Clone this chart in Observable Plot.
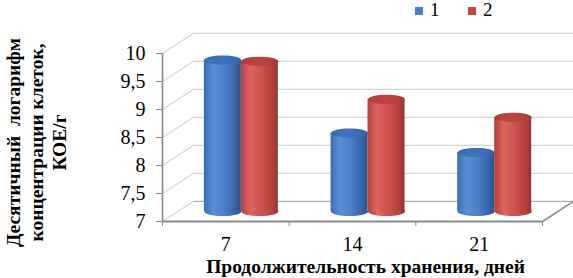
<!DOCTYPE html>
<html><head><meta charset="utf-8">
<script src="https://cdn.jsdelivr.net/npm/d3@7"></script>
<script src="https://cdn.jsdelivr.net/npm/@observablehq/plot@0.6"></script>
<style>
body{margin:0;background:#fff;}
#wrap{position:relative;width:573px;height:278px;overflow:hidden;}
#wrap svg text{font-family:"Liberation Serif",serif;}
.lg{position:absolute;font-family:"Liberation Serif",serif;font-size:19px;color:#000;line-height:1;}
.sw{position:absolute;width:8px;height:8px;}
</style></head><body><div id="wrap"></div>
<script>
const categories = ["7", "14", "21"];
const seriesNames = ["1", "2"];
const series1 = [9.7, 8.4, 8.05];
const series2 = [9.68, 9.0, 8.68];
const yTicks = [7, 7.5, 8, 8.5, 9, 9.5, 10];
const yTickLabels = ["7", "7,5", "8", "8,5", "9", "9,5", "10"];
const xTitle = "Продолжительность хранения, дней";
const yTitle = "Десятичный\u00a0 логарифм\nконцентрации клеток,\nКОЕ/г";

const DX = 0.245, DY = 0.36, BW = 0.292;
const FONT = "Liberation Serif";
const catIdx = categories.map((c, i) => i);
const boundaries = [-0.5, 0.5, 1.5, 2.5];
const rows = catIdx.flatMap(i => [
  {i, s: 0, v: series1[i]},
  {i, s: 1, v: series2[i]}
]).map(d => ({...d, cx: d.i + DX / 2 + (d.s === 0 ? -BW / 2 : BW / 2)}));

const ellipse = {
  draw(ctx) {
    const rx = 18.5, ry = 4.6, k = 0.5523;
    ctx.moveTo(-rx, 0);
    ctx.bezierCurveTo(-rx, -ry * k, -rx * k, -ry, 0, -ry);
    ctx.bezierCurveTo(rx * k, -ry, rx, -ry * k, rx, 0);
    ctx.bezierCurveTo(rx, ry * k, rx * k, ry, 0, ry);
    ctx.bezierCurveTo(-rx * k, ry, -rx, ry * k, -rx, 0);
    ctx.closePath();
  }
};

const bodyFill = ["url(#gBlue)", "url(#gRed)"];
const topFill = ["url(#tBlue)", "url(#tRed)"];
const barMarks = [0, 1].flatMap(s => {
  const data = rows.filter(d => d.s === s);
  return [
    Plot.dot(data, {x: "cx", y: 7 + DY / 2, symbol: ellipse, fill: bodyFill[s], stroke: "none"}),
    Plot.rect(data, {x1: d => d.cx - BW / 2, x2: d => d.cx + BW / 2, y1: 7 + DY / 2, y2: d => d.v + DY / 2, fill: bodyFill[s]}),
    Plot.dot(data, {x: "cx", y: d => d.v + DY / 2, symbol: ellipse, fill: topFill[s], stroke: "none"})
  ];
});

const svg = Plot.plot({
  width: 573, height: 278,
  marginLeft: 162, marginRight: 31, marginTop: 53, marginBottom: 57,
  style: {background: "#fff", fontFamily: FONT, overflow: "visible"},
  x: {domain: [-0.5, 2.5], axis: null},
  y: {domain: [7, 10], axis: null},
  marks: [
    Plot.link(yTicks, {x1: -0.5, y1: d => d, x2: -0.5 + DX, y2: d => d + DY, stroke: "#d4d4d4", strokeWidth: 1.2}),
    Plot.link(yTicks.filter(v => v > 7), {x1: -0.5 + DX, x2: 2.5 + DX, y1: d => d + DY, y2: d => d + DY, stroke: "#d4d4d4", strokeWidth: 1.2}),
    Plot.link([7], {x1: -0.5 + DX, x2: 2.5 + DX, y1: d => d + DY, y2: d => d + DY, stroke: "#b0b0b0", strokeWidth: 1.3}),
    Plot.link([7], {x1: 2.5, y1: d => d, x2: 2.5 + DX, y2: d => d + DY, stroke: "#8a8a8a", strokeWidth: 1.5}),
    Plot.ruleY([7], {x1: -0.5, x2: 2.5, stroke: "#888", strokeWidth: 2}),
    Plot.ruleX([-0.5], {y1: 7, y2: 10, stroke: "#888", strokeWidth: 1.6}),
    Plot.axisY({ticks: yTicks, tickFormat: v => yTickLabels[yTicks.indexOf(v)], tickSize: 6, tickPadding: 11, stroke: "#888", fontSize: 20, fontFamily: FONT, color: "#000", label: null}),
    Plot.axisX({ticks: boundaries, tickFormat: () => "", tickSize: 5, stroke: "#888", label: null}),
    Plot.axisX({ticks: catIdx, tickFormat: i => categories[i], tickSize: 0, tickPadding: 15, fontSize: 20, fontFamily: FONT, label: null}),
    ...barMarks,
    Plot.text([xTitle], {frameAnchor: "bottom", text: d => d, dx: 13, dy: 45, lineAnchor: "middle", fontSize: 19.5, fontFamily: FONT, fontWeight: "bold", fill: "#000"}),
    Plot.text([yTitle], {frameAnchor: "left", text: d => d, dx: -127, dy: 5, rotate: -90, lineAnchor: "middle", textAnchor: "middle", lineHeight: 1.18, fontSize: 19.5, fontFamily: FONT, fontWeight: "bold", fill: "#000"})
  ]
});

const defs = d3.select(svg).insert("defs", ":first-child");
function grad(id, stops) {
  const g = defs.append("linearGradient").attr("id", id).attr("x1", 0).attr("x2", 1).attr("y1", 0).attr("y2", 0);
  stops.forEach(([o, c]) => g.append("stop").attr("offset", o).attr("stop-color", c));
}
grad("gBlue", [[0, "#3d6db0"], [0.25, "#5a8fd6"], [0.55, "#4b80c9"], [0.85, "#3564a8"], [1, "#2b5290"]]);
grad("gRed", [[0, "#b3403c"], [0.25, "#dc645f"], [0.55, "#cf524d"], [0.85, "#b2403c"], [1, "#953230"]]);
grad("tBlue", [[0, "#3a6aae"], [0.5, "#3f73bb"], [1, "#3465a8"]]);
grad("tRed", [[0, "#ae3e3a"], [0.5, "#bd4642"], [1, "#a93b37"]]);

const wrap = document.getElementById("wrap");
wrap.appendChild(svg);
const legend = [
  {name: seriesNames[0], color: "#4a7ec6", sx: 415, tx: 430},
  {name: seriesNames[1], color: "#c9423e", sx: 468, tx: 483}
];
legend.forEach(l => {
  const sw = document.createElement("div");
  sw.className = "sw"; sw.style.left = l.sx + "px"; sw.style.top = "7px"; sw.style.background = l.color;
  const t = document.createElement("div");
  t.className = "lg"; t.style.left = l.tx + "px"; t.style.top = "0px"; t.textContent = l.name;
  wrap.appendChild(sw); wrap.appendChild(t);
});
</script></body></html>
